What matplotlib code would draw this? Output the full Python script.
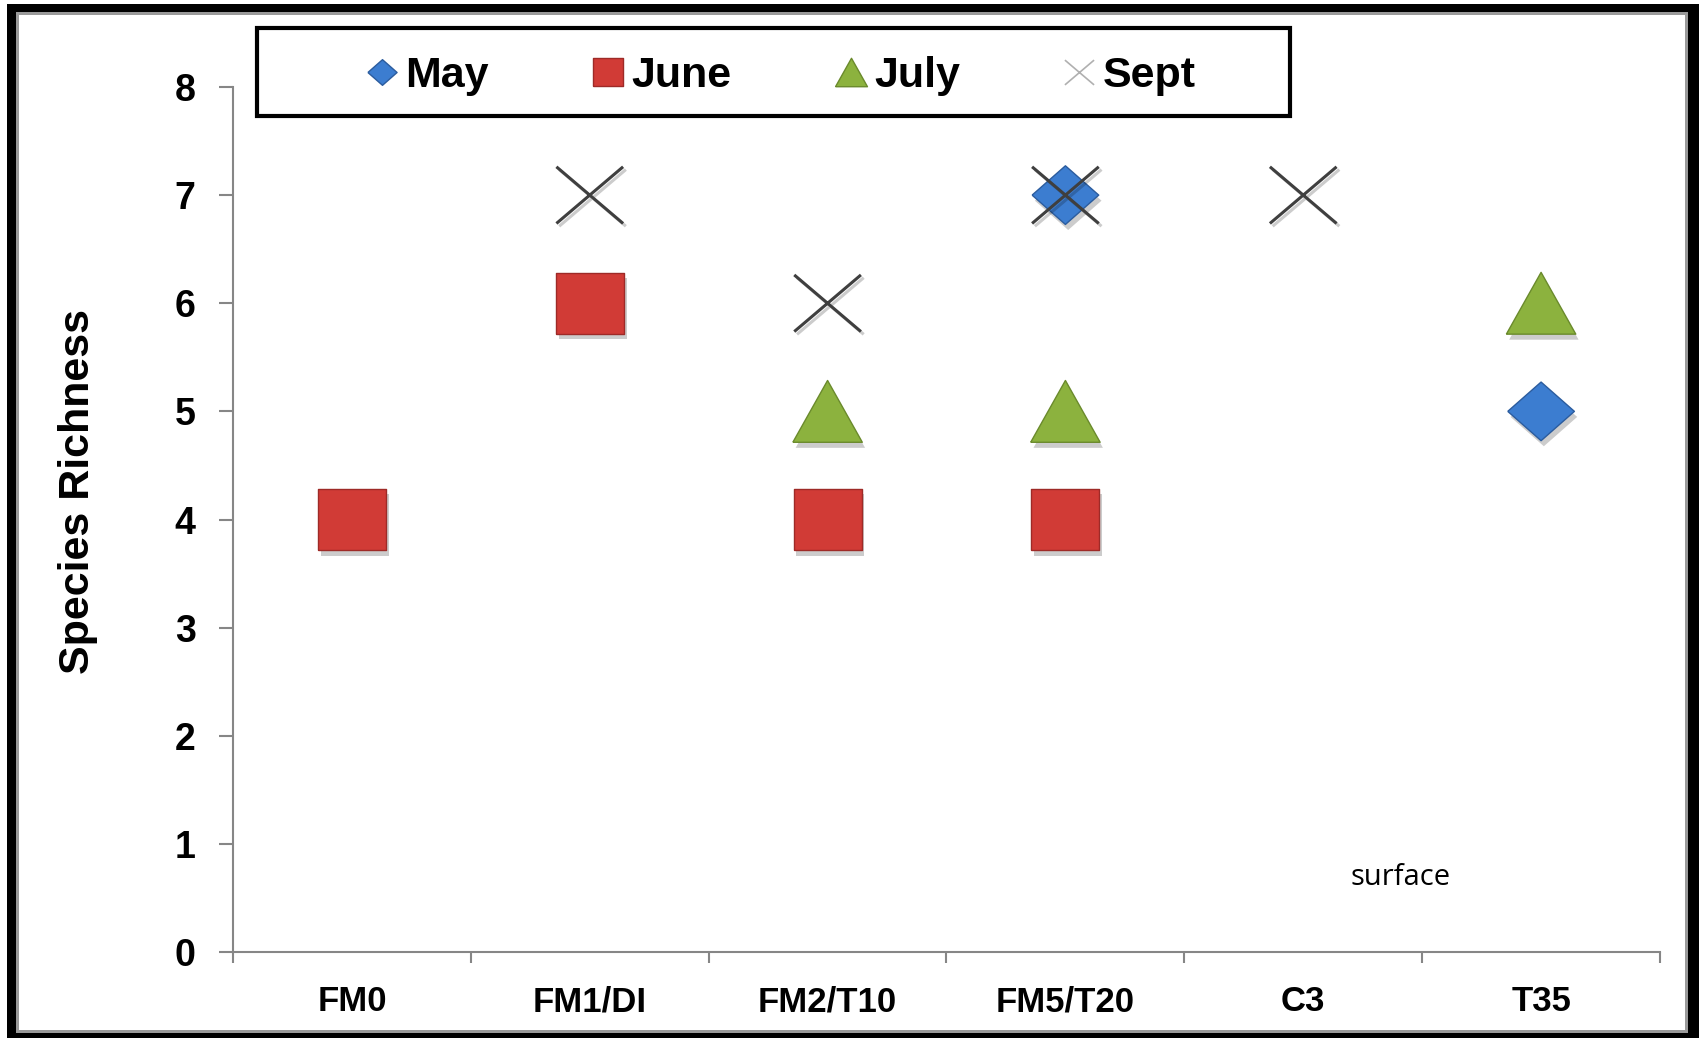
import numpy as np
import matplotlib
matplotlib.use('Agg')
import matplotlib.pyplot as plt
import matplotlib.patheffects as pe
from matplotlib.lines import Line2D
from matplotlib.patches import Rectangle
from matplotlib.path import Path

plt.rcParams['font.family'] = ['Liberation Sans', 'DejaVu Sans']

# sites along the transect and species richness per sampling month
sites = ['FM0', 'FM1/DI', 'FM2/T10', 'FM5/T20', 'C3', 'T35']
may = [np.nan, np.nan, np.nan, 7, np.nan, 5]
june = [4, 6, 4, 4, np.nan, np.nan]
july = [np.nan, np.nan, 5, 5, np.nan, 6]
sept = [np.nan, 7, 6, 7, 7, np.nan]
months = ['May', 'June', 'July', 'Sept']

W, H = 1702, 1038
fig = plt.figure(figsize=(W / 100, H / 100), dpi=100)


def px_rect(x0, top, x1, bottom, **kw):
    # rectangle given in pixel coordinates measured from the top-left corner
    return Rectangle((x0 / W, 1 - bottom / H), (x1 - x0) / W, (bottom - top) / H,
                     transform=fig.transFigure, **kw)


# thick black frame with a thin grey inner edge
fig.add_artist(px_rect(7, 4, 1699, 1040, facecolor='black', edgecolor='none', zorder=-10))
fig.add_artist(px_rect(16, 12, 1688, 1033, facecolor='#9a9a9a', edgecolor='none', zorder=-9))
fig.add_artist(px_rect(19, 15, 1685, 1030, facecolor='white', edgecolor='none', zorder=-8))

ax = fig.add_axes([233 / W, 1 - 952 / H, (1660 - 233) / W, (952 - 87) / H])
ax.patch.set_alpha(0)

# marker shapes
diamond = [(-1, 0), (0, 0.88), (1, 0), (0, -0.88), (-1, 0)]
square = [(-1, -0.9), (1, -0.9), (1, 0.9), (-1, 0.9), (-1, -0.9)]
triangle = [(-1, -0.89), (0, 0.89), (1, -0.89), (-1, -0.89)]
cross = Path([(-1, -0.85), (1, 0.85), (-1, 0.85), (1, -0.85)],
             [Path.MOVETO, Path.LINETO, Path.MOVETO, Path.LINETO])

shadow = [pe.SimplePatchShadow(offset=(2, -4), shadow_rgbFace='black', alpha=0.2), pe.Normal()]
line_shadow = [pe.SimpleLineShadow(offset=(2, -2), shadow_color='black', alpha=0.2), pe.Normal()]

x = np.arange(len(sites))
ax.plot(x, may, ls='none', marker=diamond, ms=48, mfc='#3C7DD0', mec='#2B5C9E', mew=1,
        path_effects=shadow, zorder=3)
ax.plot(x, june, ls='none', marker=square, ms=49, mfc='#D13B36', mec='#9E2A27', mew=1,
        path_effects=shadow, zorder=3)
ax.plot(x, july, ls='none', marker=triangle, ms=50, mfc='#8CB23E', mec='#6A8A2C', mew=1,
        path_effects=shadow, zorder=3)
ax.plot(x, sept, ls='none', marker=cross, ms=48, mec='#3F3F3F', mew=2.2,
        path_effects=line_shadow, zorder=4)

ax.set_xlim(-0.5, len(sites) - 0.5)
ax.set_ylim(0, 8)
ax.set_yticks(range(0, 9))
ax.set_xticks(x)
ax.set_xticklabels(sites)
ax.set_xticks(np.arange(-0.5, len(sites)), minor=True)

for s in ['top', 'right']:
    ax.spines[s].set_visible(False)
for s in ['left', 'bottom']:
    ax.spines[s].set_color('#868686')
    ax.spines[s].set_linewidth(1.5)

ax.tick_params(axis='y', length=10, width=1.5, color='#868686', pad=17,
               labelsize=27)
ax.tick_params(axis='x', which='major', length=0, pad=24, labelsize=25)
ax.tick_params(axis='x', which='minor', length=8, width=1.5, color='#868686')
for lab in ax.get_xticklabels() + ax.get_yticklabels():
    lab.set_fontweight('bold')

fig.text(78 / W, 1 - 491 / H, 'Species Richness', rotation=90, ha='center', va='center',
         fontsize=31, fontweight='bold')

ax.text(4.41, 0.69, 'surface', ha='center', va='center', fontsize=21,
        family=['Open Sans', 'DejaVu Sans'])

# legend box and entries
fig.add_artist(px_rect(257, 28, 1290, 116, facecolor='none', edgecolor='black',
                       linewidth=3, zorder=5))
handles = [
    Line2D([], [], ls='none', marker=diamond, ms=21, mfc='#3C7DD0', mec='#2B5C9E'),
    Line2D([], [], ls='none', marker=square, ms=22, mfc='#D13B36', mec='#9E2A27'),
    Line2D([], [], ls='none', marker=triangle, ms=23, mfc='#8CB23E', mec='#6A8A2C'),
    Line2D([], [], ls='none', marker=cross, ms=21, mec='#b0b0b0', mew=1.2),
]
leg = fig.legend(handles, months, loc='center', bbox_to_anchor=(778 / W, 1 - 76 / H),
                 ncol=4, frameon=False, handlelength=1.0, handletextpad=0.05,
                 columnspacing=2.26, prop={'size': 31, 'weight': 'bold'})

fig.savefig('out.png', dpi=100)
